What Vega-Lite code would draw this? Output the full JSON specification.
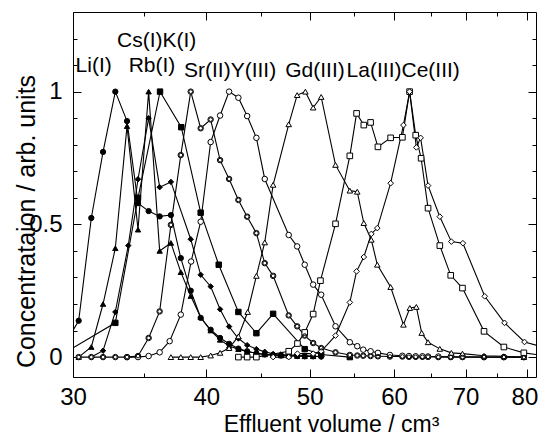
{
  "$schema": "https://vega.github.io/schema/vega-lite/v6.json",
  "width": 463,
  "height": 365,
  "autosize": {"type": "none"},
  "padding": {"left": 73, "top": 12, "right": 3, "bottom": 61},
  "background": "white",
  "config": {
    "view": {"stroke": "black", "strokeWidth": 1},
    "axis": {"grid": false, "labelFont": "Liberation Sans", "titleFont": "Liberation Sans", "labelColor": "black", "titleColor": "black", "tickColor": "black", "domainColor": "black", "titleFontWeight": "normal", "tickWidth": 1, "domainWidth": 1, "labelFlush": false, "labelOverlap": false, "domain": false, "zindex": 1}
  },
  "datasets": {
    "pts": [
      {"s":"Li","x":29,"y":0},{"s":"Li","x":30.37,"y":0.137},{"s":"Li","x":31.21,"y":0.524},{"s":"Li","x":32.01,"y":0.773},{"s":"Li","x":32.87,"y":1.0},{"s":"Li","x":33.71,"y":0.889},{"s":"Li","x":34.52,"y":0.58},{"s":"Li","x":35.32,"y":0.55},{"s":"Li","x":36.17,"y":0.53},{"s":"Li","x":37.06,"y":0.535},{"s":"Li","x":37.86,"y":0.373},{"s":"Li","x":38.68,"y":0.25},{"s":"Li","x":39.52,"y":0.148},{"s":"Li","x":40.38,"y":0.103},{"s":"Li","x":41.21,"y":0.072},{"s":"Li","x":42.02,"y":0.05},{"s":"Li","x":42.87,"y":0.032},{"s":"Li","x":43.69,"y":0.022},{"s":"Li","x":44.57,"y":0.014},{"s":"Li","x":45.38,"y":0.01},{"s":"Li","x":46.21,"y":0.008},{"s":"Li","x":47.0,"y":0.006},{"s":"Li","x":47.79,"y":0.005},{"s":"Li","x":48.67,"y":0.004},{"s":"Li","x":49.47,"y":0.003},{"s":"Li","x":50.38,"y":0.003},{"s":"Li","x":51.26,"y":0.002},
      {"s":"Cs","x":30.37,"y":0},{"s":"Cs","x":31.21,"y":0.038},{"s":"Cs","x":32.01,"y":0.2},{"s":"Cs","x":32.87,"y":0.41},{"s":"Cs","x":33.71,"y":0.87},{"s":"Cs","x":34.52,"y":0.48},{"s":"Cs","x":35.32,"y":1.0},{"s":"Cs","x":36.17,"y":0.4},{"s":"Cs","x":37.06,"y":0.43},{"s":"Cs","x":37.86,"y":0.32},{"s":"Cs","x":38.68,"y":0.23},{"s":"Cs","x":39.52,"y":0.15},{"s":"Cs","x":40.38,"y":0.1},{"s":"Cs","x":41.21,"y":0.065},{"s":"Cs","x":42.02,"y":0.042},{"s":"Cs","x":42.87,"y":0.03},{"s":"Cs","x":43.69,"y":0.02},{"s":"Cs","x":44.57,"y":0.015},{"s":"Cs","x":45.38,"y":0.01},{"s":"Cs","x":46.21,"y":0.008},{"s":"Cs","x":47.0,"y":0.006},{"s":"Cs","x":47.79,"y":0.005},{"s":"Cs","x":48.67,"y":0.004},{"s":"Cs","x":49.47,"y":0.003},{"s":"Cs","x":50.38,"y":0.003},
      {"s":"K","x":31.21,"y":0},{"s":"K","x":32.01,"y":0.024},{"s":"K","x":32.87,"y":0.17},{"s":"K","x":33.8,"y":0.42},{"s":"K","x":34.52,"y":0.67},{"s":"K","x":35.32,"y":0.9},{"s":"K","x":36.17,"y":0.64},{"s":"K","x":37.06,"y":0.66},{"s":"K","x":38.68,"y":0.444},{"s":"K","x":39.52,"y":0.31},{"s":"K","x":40.38,"y":0.266},{"s":"K","x":41.21,"y":0.18},{"s":"K","x":42.02,"y":0.115},{"s":"K","x":42.87,"y":0.07},{"s":"K","x":43.69,"y":0.045},{"s":"K","x":44.57,"y":0.03},{"s":"K","x":45.38,"y":0.02},{"s":"K","x":46.21,"y":0.012},{"s":"K","x":47.0,"y":0.01},{"s":"K","x":47.79,"y":0.008},{"s":"K","x":48.67,"y":0.006},{"s":"K","x":49.47,"y":0.005},{"s":"K","x":50.38,"y":0.003},{"s":"K","x":51.26,"y":0.002},
      {"s":"Rb","x":29,"y":0},{"s":"Rb","x":32.87,"y":0.129},{"s":"Rb","x":34.52,"y":0.6},{"s":"Rb","x":36.2,"y":1.0},{"s":"Rb","x":37.9,"y":0.866},{"s":"Rb","x":39.52,"y":0.544},{"s":"Rb","x":41.09,"y":0.348},{"s":"Rb","x":42.87,"y":0.17},{"s":"Rb","x":44.57,"y":0.09},{"s":"Rb","x":46.21,"y":0.163},{"s":"Rb","x":49.47,"y":0.03},{"s":"Rb","x":51.26,"y":0.01},{"s":"Rb","x":54.53,"y":0},
      {"s":"Sr","x":30.37,"y":0},{"s":"Sr","x":31.21,"y":0},{"s":"Sr","x":32.01,"y":0},{"s":"Sr","x":32.87,"y":0},{"s":"Sr","x":33.71,"y":0},{"s":"Sr","x":34.52,"y":0.004},{"s":"Sr","x":35.32,"y":0.072},{"s":"Sr","x":36.17,"y":0.172},{"s":"Sr","x":37.06,"y":0.498},{"s":"Sr","x":37.86,"y":0.761},{"s":"Sr","x":38.68,"y":1.0},{"s":"Sr","x":39.52,"y":0.862},{"s":"Sr","x":40.38,"y":0.895},{"s":"Sr","x":41.21,"y":0.742},{"s":"Sr","x":42.02,"y":0.671},{"s":"Sr","x":42.87,"y":0.592},{"s":"Sr","x":43.69,"y":0.529},{"s":"Sr","x":44.57,"y":0.467},{"s":"Sr","x":45.38,"y":0.354},{"s":"Sr","x":46.21,"y":0.306},{"s":"Sr","x":47.79,"y":0.157},{"s":"Sr","x":48.67,"y":0.116},{"s":"Sr","x":49.47,"y":0.081},{"s":"Sr","x":50.38,"y":0.053},{"s":"Sr","x":51.26,"y":0.034},{"s":"Sr","x":52.87,"y":0.018},{"s":"Sr","x":54.53,"y":0.008},{"s":"Sr","x":55.41,"y":0.006},{"s":"Sr","x":56.13,"y":0.005},{"s":"Sr","x":57.03,"y":0.004},{"s":"Sr","x":57.94,"y":0.003},{"s":"Sr","x":59.46,"y":0.002},{"s":"Sr","x":61.08,"y":0.002},{"s":"Sr","x":61.95,"y":0.001},{"s":"Sr","x":62.86,"y":0.001},{"s":"Sr","x":63.78,"y":0.001},{"s":"Sr","x":64.56,"y":0.001},{"s":"Sr","x":66.01,"y":0},{"s":"Sr","x":67.8,"y":0},{"s":"Sr","x":69.54,"y":0},{"s":"Sr","x":72.85,"y":0},{"s":"Sr","x":76.04,"y":0},{"s":"Sr","x":79.39,"y":0},
      {"s":"Y","x":33.71,"y":0},{"s":"Y","x":34.52,"y":0},{"s":"Y","x":35.32,"y":0.004},{"s":"Y","x":36.17,"y":0.018},{"s":"Y","x":36.96,"y":0.06},{"s":"Y","x":37.86,"y":0.16},{"s":"Y","x":38.71,"y":0.36},{"s":"Y","x":39.52,"y":0.51},{"s":"Y","x":40.38,"y":0.81},{"s":"Y","x":41.21,"y":0.91},{"s":"Y","x":42.02,"y":1.0},{"s":"Y","x":42.87,"y":0.977},{"s":"Y","x":43.69,"y":0.908},{"s":"Y","x":44.57,"y":0.826},{"s":"Y","x":45.38,"y":0.671},{"s":"Y","x":47.79,"y":0.46},{"s":"Y","x":48.67,"y":0.417},{"s":"Y","x":49.47,"y":0.348},{"s":"Y","x":50.38,"y":0.273},{"s":"Y","x":51.26,"y":0.235},{"s":"Y","x":52.87,"y":0.116},{"s":"Y","x":54.53,"y":0.056},{"s":"Y","x":55.41,"y":0.041},{"s":"Y","x":56.13,"y":0.028},{"s":"Y","x":57.03,"y":0.022},{"s":"Y","x":57.94,"y":0.016},{"s":"Y","x":59.46,"y":0.008},{"s":"Y","x":61.08,"y":0.005},{"s":"Y","x":61.95,"y":0.004},{"s":"Y","x":62.86,"y":0.003},{"s":"Y","x":63.78,"y":0.003},{"s":"Y","x":64.56,"y":0.002},{"s":"Y","x":66.01,"y":0.002},{"s":"Y","x":67.8,"y":0.001},{"s":"Y","x":69.54,"y":0.001},{"s":"Y","x":72.85,"y":0},{"s":"Y","x":76.04,"y":0},{"s":"Y","x":79.39,"y":0},
      {"s":"Gd","x":37.06,"y":0},{"s":"Gd","x":37.86,"y":0},{"s":"Gd","x":38.68,"y":0},{"s":"Gd","x":39.52,"y":0},{"s":"Gd","x":40.38,"y":0.006},{"s":"Gd","x":41.21,"y":0.016},{"s":"Gd","x":42.02,"y":0.034},{"s":"Gd","x":42.87,"y":0.078},{"s":"Gd","x":43.74,"y":0.17},{"s":"Gd","x":44.57,"y":0.306},{"s":"Gd","x":45.38,"y":0.432},{"s":"Gd","x":46.21,"y":0.649},{"s":"Gd","x":47.79,"y":0.877},{"s":"Gd","x":48.67,"y":0.987},{"s":"Gd","x":49.54,"y":1.0},{"s":"Gd","x":50.38,"y":0.94},{"s":"Gd","x":51.26,"y":0.98},{"s":"Gd","x":52.87,"y":0.724},{"s":"Gd","x":54.53,"y":0.627},{"s":"Gd","x":55.41,"y":0.623},{"s":"Gd","x":56.2,"y":0.505},{"s":"Gd","x":57.12,"y":0.442},{"s":"Gd","x":57.86,"y":0.348},{"s":"Gd","x":59.55,"y":0.264},{"s":"Gd","x":61.22,"y":0.122},{"s":"Gd","x":62.07,"y":0.185},{"s":"Gd","x":62.95,"y":0.189},{"s":"Gd","x":63.68,"y":0.091},{"s":"Gd","x":64.56,"y":0.056},{"s":"Gd","x":66.22,"y":0.031},{"s":"Gd","x":67.89,"y":0.016},{"s":"Gd","x":69.54,"y":0.013},{"s":"Gd","x":72.85,"y":0.005},{"s":"Gd","x":76.04,"y":0.003},{"s":"Gd","x":79.39,"y":0},
      {"s":"La","x":42.87,"y":0},{"s":"La","x":43.69,"y":0},{"s":"La","x":44.57,"y":0},{"s":"La","x":47.79,"y":0.022},{"s":"La","x":48.7,"y":0.051},{"s":"La","x":49.47,"y":0.093},{"s":"La","x":50.38,"y":0.162},{"s":"La","x":51.18,"y":0.288},{"s":"La","x":52.87,"y":0.502},{"s":"La","x":54.53,"y":0.758},{"s":"La","x":55.33,"y":0.918},{"s":"La","x":56.2,"y":0.874},{"s":"La","x":57.03,"y":0.884},{"s":"La","x":57.94,"y":0.792},{"s":"La","x":59.55,"y":0.826},{"s":"La","x":61.08,"y":0.828},{"s":"La","x":62.04,"y":1.0},{"s":"La","x":62.86,"y":0.836},{"s":"La","x":63.6,"y":0.749},{"s":"La","x":64.56,"y":0.561},{"s":"La","x":66.22,"y":0.42},{"s":"La","x":67.8,"y":0.308},{"s":"La","x":69.54,"y":0.26},{"s":"La","x":72.85,"y":0.097},{"s":"La","x":76.04,"y":0.038},{"s":"La","x":79.39,"y":0.016},{"s":"La","x":83.3,"y":0.005},
      {"s":"Ce","x":46.21,"y":0},{"s":"Ce","x":47.79,"y":0},{"s":"Ce","x":48.7,"y":0.013},{"s":"Ce","x":50.38,"y":0.013},{"s":"Ce","x":51.26,"y":0.022},{"s":"Ce","x":52.87,"y":0.081},{"s":"Ce","x":54.53,"y":0.206},{"s":"Ce","x":55.33,"y":0.323},{"s":"Ce","x":56.2,"y":0.377},{"s":"Ce","x":57.12,"y":0.464},{"s":"Ce","x":57.86,"y":0.486},{"s":"Ce","x":59.55,"y":0.655},{"s":"Ce","x":61.22,"y":0.874},{"s":"Ce","x":62.04,"y":1.0},{"s":"Ce","x":62.95,"y":0.79},{"s":"Ce","x":63.53,"y":0.826},{"s":"Ce","x":64.56,"y":0.646},{"s":"Ce","x":66.22,"y":0.529},{"s":"Ce","x":67.89,"y":0.435},{"s":"Ce","x":69.6,"y":0.429},{"s":"Ce","x":72.96,"y":0.229},{"s":"Ce","x":76.15,"y":0.129},{"s":"Ce","x":79.5,"y":0.057},{"s":"Ce","x":83.3,"y":0.035}
    ],
    "lab": [
      {"t":"Li(I)","x":31.37,"y":1.096},
      {"t":"Cs(I)K(I)","x":35.94,"y":1.19},
      {"t":"Rb(I)","x":35.58,"y":1.096},
      {"t":"Sr(II)Y(III)","x":42.11,"y":1.077},
      {"t":"Gd(III)","x":50.58,"y":1.077},
      {"t":"La(III)Ce(III)","x":61.19,"y":1.077}
    ]
  },
  "resolve": {"axis": {"x": "independent", "y": "independent"}},
  "layer": [
    {
      "data": {"name": "pts"},
      "mark": {"type": "point", "opacity": 0},
      "encoding": {
        "x": {"field": "x", "type": "quantitative", "scale": {"type": "log", "domain": [30, 81.5], "nice": false, "zero": false},
          "axis": {"orient": "bottom", "offset": -8, "values": [30, 40, 50, 60, 70, 80], "format": "~g", "tickSize": 8, "labelPadding": 8, "labelFontSize": 24, "labelOffset": {"condition": {"test": "datum.value === 80", "value": -3}, "value": 0}, "title": "Effluent volume / cm³", "titleFontSize": 23, "titleX": 258, "titleY": 62, "titleBaseline": "alphabetic", "titleAlign": "center"}},
        "y": {"field": "y", "type": "quantitative", "scale": {"domain": [-0.075, 1.3], "nice": false, "zero": false},
          "axis": {"orient": "left", "offset": -8, "values": [0, 0.5, 1], "format": "~g", "tickSize": 8, "labelPadding": 11, "labelFontSize": 24, "title": "Concentrataion / arb. units", "titleFontSize": 25, "titleX": -47, "titleY": 209, "titleAngle": -90, "titleBaseline": "alphabetic", "titleAlign": "center"}}
      }
    },
    {
      "data": {"name": "pts"},
      "mark": {"type": "point", "opacity": 0},
      "encoding": {
        "x": {"field": "x", "type": "quantitative", "scale": {"type": "log", "domain": [30, 81.5], "nice": false, "zero": false},
          "axis": {"orient": "top", "offset": -8, "values": [30, 40, 50, 60, 70, 80], "tickSize": 8, "labels": false, "title": null}},
        "y": {"field": "y", "type": "quantitative", "scale": {"domain": [-0.075, 1.3], "nice": false, "zero": false},
          "axis": {"orient": "right", "offset": -8, "values": [0, 0.5, 1], "tickSize": 8, "labels": false, "title": null}}
      }
    },
    {
      "data": {"name": "pts"},
      "mark": {"type": "point", "opacity": 0},
      "encoding": {
        "x": {"field": "x", "type": "quantitative", "scale": {"type": "log", "domain": [30, 81.5], "nice": false, "zero": false},
          "axis": {"orient": "bottom", "offset": -4, "values": [35, 45, 55, 65, 75], "tickSize": 4, "labels": false, "title": null}},
        "y": {"field": "y", "type": "quantitative", "scale": {"domain": [-0.075, 1.3], "nice": false, "zero": false},
          "axis": {"orient": "left", "offset": -4, "values": [0.1, 0.2, 0.3, 0.4, 0.6, 0.7, 0.8, 0.9, 1.1, 1.2], "tickSize": 4, "labels": false, "title": null}}
      }
    },
    {
      "data": {"name": "pts"},
      "mark": {"type": "point", "opacity": 0},
      "encoding": {
        "x": {"field": "x", "type": "quantitative", "scale": {"type": "log", "domain": [30, 81.5], "nice": false, "zero": false},
          "axis": {"orient": "top", "offset": -4, "values": [35, 45, 55, 65, 75], "tickSize": 4, "labels": false, "title": null}},
        "y": {"field": "y", "type": "quantitative", "scale": {"domain": [-0.075, 1.3], "nice": false, "zero": false},
          "axis": {"orient": "right", "offset": -4, "values": [0.1, 0.2, 0.3, 0.4, 0.6, 0.7, 0.8, 0.9, 1.1, 1.2], "tickSize": 4, "labels": false, "title": null}}
      }
    },
    {
      "data": {"name": "pts"},
      "mark": {"type": "line", "color": "black", "strokeWidth": 1.1, "clip": true},
      "encoding": {
        "x": {"field": "x", "type": "quantitative", "scale": {"type": "log", "domain": [30, 81.5], "nice": false, "zero": false}, "axis": null},
        "y": {"field": "y", "type": "quantitative", "scale": {"domain": [-0.075, 1.3], "nice": false, "zero": false}, "axis": null},
        "detail": {"field": "s", "type": "nominal"}
      }
    },
    {
      "data": {"name": "pts"},
      "mark": {"type": "point", "filled": true, "stroke": "black", "strokeWidth": 1, "opacity": 1, "fillOpacity": 1, "strokeOpacity": 1, "clip": true},
      "encoding": {
        "x": {"field": "x", "type": "quantitative", "scale": {"type": "log", "domain": [30, 81.5], "nice": false, "zero": false}, "axis": null},
        "y": {"field": "y", "type": "quantitative", "scale": {"domain": [-0.075, 1.3], "nice": false, "zero": false}, "axis": null},
        "shape": {"field": "s", "type": "nominal", "legend": null, "scale": {"domain": ["Li","Cs","K","Rb","Sr","Y","Gd","La","Ce"], "range": ["circle","triangle-up","diamond","square","circle","circle","triangle-up","square","diamond"]}},
        "fill": {"field": "s", "type": "nominal", "legend": null, "scale": {"domain": ["Li","Cs","K","Rb","Sr","Y","Gd","La","Ce"], "range": ["black","black","black","black","white","white","white","white","white"]}},
        "size": {"field": "s", "type": "nominal", "legend": null, "scale": {"domain": ["Li","Cs","K","Rb","Sr","Y","Gd","La","Ce"], "range": [28, 32, 26, 45, 90, 50, 62, 60, 55]}}
      }
    },
    {
      "data": {"name": "pts"},
      "transform": [{"filter": "datum.s === 'Sr'"}],
      "mark": {"type": "point", "filled": false, "stroke": "black", "strokeWidth": 1, "opacity": 1, "size": 14, "clip": true},
      "encoding": {
        "x": {"field": "x", "type": "quantitative", "scale": {"type": "log", "domain": [30, 81.5], "nice": false, "zero": false}, "axis": null},
        "y": {"field": "y", "type": "quantitative", "scale": {"domain": [-0.075, 1.3], "nice": false, "zero": false}, "axis": null}
      }
    },
    {
      "data": {"name": "lab"},
      "mark": {"type": "text", "font": "Liberation Sans", "fontSize": 21, "align": "center", "baseline": "middle", "color": "black"},
      "encoding": {
        "x": {"field": "x", "type": "quantitative", "scale": {"type": "log", "domain": [30, 81.5], "nice": false, "zero": false}, "axis": null},
        "y": {"field": "y", "type": "quantitative", "scale": {"domain": [-0.075, 1.3], "nice": false, "zero": false}, "axis": null},
        "text": {"field": "t", "type": "nominal"}
      }
    }
  ]
}
